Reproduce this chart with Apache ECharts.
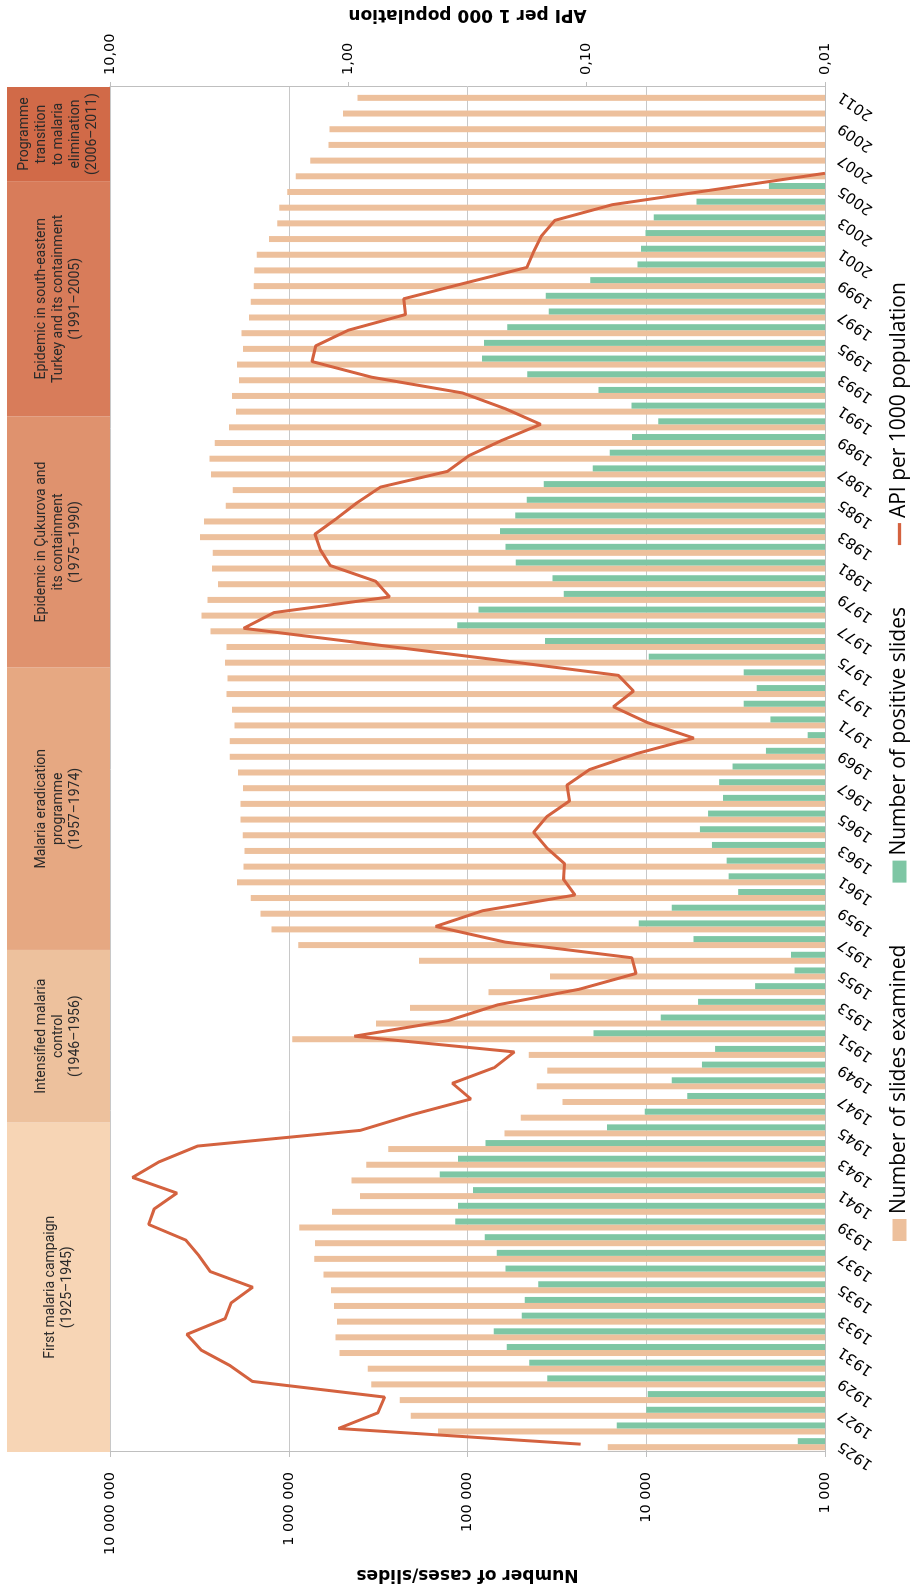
<!DOCTYPE html>
<html>
<head>
<meta charset="utf-8">
<title>Malaria in Turkey 1925–2011</title>
<script src="https://cdn.jsdelivr.net/npm/echarts@6/dist/echarts.min.js"></script>
<style>
  html, body { margin: 0; padding: 0; background: #fff; }
  body { width: 915px; height: 1588px; overflow: hidden; position: relative; }
  /* the chart is laid out landscape and then turned a quarter turn anticlockwise */
  #chart {
    position: absolute; left: 0; top: 0;
    width: 1588px; height: 915px;
    transform-origin: 0 0;
    transform: translateY(1588px) rotate(-90deg);
  }
</style>
</head>
<body>
<div id="chart"></div>
<script>
const years = ['1925','1926','1927','1928','1929','1930','1931','1932','1933','1934',
  '1935','1936','1937','1938','1939','1940','1941','1942','1943','1944',
  '1945','1946','1947','1948','1949','1950','1951','1952','1953','1954',
  '1955','1956','1957','1958','1959','1960','1961','1962','1963','1964',
  '1965','1966','1967','1968','1969','1970','1971','1972','1973','1974',
  '1975','1976','1977','1978','1979','1980','1981','1982','1983','1984',
  '1985','1986','1987','1988','1989','1990','1991','1992','1993','1994',
  '1995','1996','1997','1998','1999','2000','2001','2002','2003','2004',
  '2005','2006','2007','2008','2009','2010','2011']

// number of slides examined
const examined = [16400, 146000, 208000, 239000, 346000, 362000, 520000, 548000, 537000, 559000,
  581000, 640000, 719000, 714000, 873000, 573000, 399000, 446000, 369000, 278000,
  62000, 50400, 29400, 41000, 35800, 45400, 956000, 325000, 210000, 76200,
  34600, 187000, 884000, 1250000, 1440000, 1630000, 1950000, 1790000, 1770000, 1810000,
  1860000, 1860000, 1800000, 1920000, 2140000, 2140000, 2010000, 2080000, 2230000, 2200000,
  2270000, 2230000, 2740000, 3080000, 2850000, 2490000, 2690000, 2660000, 3140000, 2980000,
  2250000, 2060000, 2720000, 2780000, 2590000, 2160000, 1970000, 2080000, 1900000, 1950000,
  1800000, 1840000, 1670000, 1630000, 1570000, 1560000, 1510000, 1290000, 1160000, 1130000,
  1020000, 914000, 757000, 600000, 592000, 497000, 412000]

// number of positive slides
const positive = [1420, 14600, 10000, 9810, 35800, 45100, 60400, 71400, 49700, 47800,
  40200, 61200, 68700, 80200, 117000, 113000, 93100, 143000, 113000, 79200,
  16600, 10200, 5890, 7190, 4880, 4120, 19700, 8290, 5130, 2460,
  1480, 1550, 5440, 11000, 7190, 3060, 3460, 3550, 4290, 5010,
  4510, 3720, 3910, 3290, 2140, 1250, 2020, 2850, 2410, 2850,
  9680, 36900, 114000, 86700, 28900, 33500, 53700, 61200, 65700, 54100,
  46600, 37400, 19900, 16000, 12000, 8560, 12100, 18500, 46300, 82900,
  80800, 60000, 35100, 36500, 20600, 11200, 10700, 10100, 9070, 5240,
  2060, null, null, null, null, null, null]

// API per 1000 population
const api = [0.106, 1.10, 0.751, 0.705, 2.53, 3.13, 4.15, 4.76, 3.29, 3.10,
  2.52, 3.80, 4.23, 4.80, 6.88, 6.52, 5.24, 8.04, 6.21, 4.29,
  0.890, 0.540, 0.306, 0.366, 0.244, 0.201, 0.944, 0.380, 0.236, 0.107,
  0.0621, 0.0646, 0.220, 0.430, 0.273, 0.112, 0.125, 0.124, 0.147, 0.167,
  0.147, 0.118, 0.121, 0.0971, 0.0621, 0.0355, 0.0558, 0.0773, 0.0636, 0.0736,
  0.242, 0.815, 2.75, 2.05, 0.671, 0.769, 1.19, 1.31, 1.38, 1.12,
  0.92, 0.733, 0.384, 0.312, 0.225, 0.156, 0.22, 0.332, 0.796, 1.42,
  1.37, 1.0, 0.575, 0.586, 0.324, 0.178, 0.167, 0.155, 0.136, 0.078,
  0.0279, 0.01, null, null, null, null, null]

// programme periods
const periodStart = ['1925', '1946', '1957', '1975', '1991', '2006']
const periodEnd = ['1945', '1956', '1974', '1990', '2005', '2011']
const periodLabels = [
  'First malaria campaign\n(1925–1945)',
  'Intensified malaria\ncontrol\n(1946–1956)',
  'Malaria eradication\nprogramme\n(1957–1974)',
  'Epidemic in Çukurova and\nits containment\n(1975–1990)',
  'Epidemic in south-eastern\nTurkey and its containment\n(1991–2005)',
  'Programme\ntransition\nto malaria\nelimination\n(2006–2011)'
]
const periodColors = ['#f7d5b5', '#edc19d', '#e6a882', '#df926e', '#d87c5a', '#d16a48']

const periodData = periodStart.map((s, i) => [years.indexOf(s), years.indexOf(periodEnd[i]), i])

const spaced = v => String(Math.round(v)).replace(/\B(?=(\d{3})+(?!\d))/g, ' ')
const decimal = v => Number(v).toFixed(2).replace('.', ',')

const axisGrey = '#bfbfbf'
const tickFont = { fontFamily: 'DejaVu Sans', fontSize: 14.5, color: '#000' }
const titleFont = { fontFamily: 'DejaVu Sans', fontSize: 17, fontWeight: 'bold', color: '#000' }

const chart = echarts.init(document.getElementById('chart'))
chart.setOption({
  animation: false,
  backgroundColor: '#fff',
  grid: [
    { left: 136, right: 87, top: 110, bottom: 90, containLabel: false, outerBoundsMode: 'none' },
    { left: 136, right: 87, top: 7, height: 103, containLabel: false, outerBoundsMode: 'none' }
  ],
  legend: {
    left: 342,
    top: 884,
    itemWidth: 22,
    itemHeight: 14,
    itemGap: 62,
    textStyle: { fontFamily: 'Open Sans', fontSize: 21, color: '#000' },
    data: [
      { name: 'Number of slides examined', icon: 'rect' },
      { name: 'Number of positive slides', icon: 'rect' },
      { name: 'API per 1000 population', icon: 'path://M0,0H20V3H0Z' }
    ]
  },
  xAxis: [
    {
      type: 'category',
      gridIndex: 0,
      data: years,
      boundaryGap: true,
      axisLine: { lineStyle: { color: axisGrey } },
      axisTick: { interval: 0, length: 5, lineStyle: { color: axisGrey } },
      axisLabel: { ...tickFont, fontSize: 15, interval: 1, rotate: 55, margin: 15 }
    },
    { type: 'category', gridIndex: 1, data: years, show: false }
  ],
  yAxis: [
    {
      type: 'log',
      logBase: 10,
      gridIndex: 0,
      position: 'left',
      min: 1000,
      max: 10000000,
      name: 'Number of cases/slides',
      nameLocation: 'middle',
      nameRotate: 90,
      nameGap: 105,
      nameTextStyle: titleFont,
      axisLine: { show: true, lineStyle: { color: axisGrey } },
      axisTick: { show: true, length: 5, lineStyle: { color: axisGrey } },
      axisLabel: { ...tickFont, margin: 20, formatter: spaced },
      splitLine: { show: true, lineStyle: { color: '#c8c8c8' } }
    },
    {
      type: 'log',
      logBase: 10,
      gridIndex: 0,
      position: 'right',
      min: 0.01,
      max: 10,
      name: 'API per 1 000 population',
      nameLocation: 'middle',
      nameRotate: 90,
      nameGap: 55,
      nameTextStyle: titleFont,
      axisLine: { show: true, lineStyle: { color: axisGrey } },
      axisTick: { show: true, length: 5, lineStyle: { color: axisGrey } },
      axisLabel: { ...tickFont, margin: 12, formatter: decimal },
      splitLine: { show: false }
    },
    { type: 'value', gridIndex: 1, min: 0, max: 1, show: false }
  ],
  series: [
    {
      name: 'Number of slides examined',
      type: 'bar',
      xAxisIndex: 0,
      yAxisIndex: 0,
      data: examined,
      barWidth: 6,
      barGap: '0%',
      clip: true,
      itemStyle: { color: '#edc09c' }
    },
    {
      name: 'Number of positive slides',
      type: 'bar',
      xAxisIndex: 0,
      yAxisIndex: 0,
      data: positive,
      barWidth: 6,
      barGap: '0%',
      clip: true,
      itemStyle: { color: '#7ec6a4' }
    },
    {
      name: 'API per 1000 population',
      type: 'line',
      xAxisIndex: 0,
      yAxisIndex: 1,
      data: api,
      symbol: 'none',
      z: 5,
      lineStyle: { width: 3, color: '#d4623f' },
      itemStyle: { color: '#d4623f' }
    },
    {
      // programme periods drawn as coloured blocks above the plot
      type: 'custom',
      xAxisIndex: 1,
      yAxisIndex: 2,
      data: periodData,
      encode: { x: [0, 1] },
      silent: true,
      renderItem: function (params, a) {
        const i = a.value(2)
        const p0 = a.coord([a.value(0), 1])
        const p1 = a.coord([a.value(1), 0])
        const w = a.size([1, 0])[0]
        const x = p0[0] - w / 2
        const width = p1[0] - p0[0] + w
        const y = p0[1]
        const height = p1[1] - p0[1]
        return {
          type: 'group',
          children: [
            { type: 'rect', shape: { x: x, y: y, width: width, height: height }, style: { fill: periodColors[i] } },
            {
              type: 'text',
              style: {
                x: x + width / 2,
                y: y + height / 2,
                text: periodLabels[i],
                align: 'center',
                verticalAlign: 'middle',
                fontFamily: 'Roboto',
                fontSize: 14,
                lineHeight: 17,
                fill: '#2a2a2a'
              }
            }
          ]
        }
      }
    }
  ]
})
</script>
</body>
</html>
